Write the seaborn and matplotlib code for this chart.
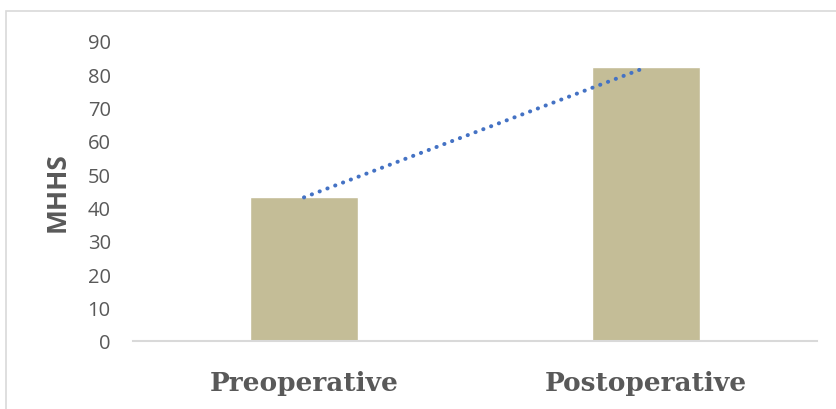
import matplotlib
matplotlib.use("Agg")
import matplotlib.pyplot as plt
from matplotlib.patches import Rectangle
import seaborn as sns
import pandas as pd

# Mean MHHS before and after surgery
categories = ["Preoperative", "Postoperative"]
mhhs_scores = [43, 82]
y_ticks = [0, 10, 20, 30, 40, 50, 60, 70, 80, 90]

BAR_COLOR = "#C4BD97"
TREND_COLOR = "#4472C4"
TEXT_COLOR = "#595959"
FRAME_COLOR = "#D9D9D9"

sns.set_theme(style="white")
plt.rcParams["font.family"] = ["Open Sans", "DejaVu Sans"]

df = pd.DataFrame({"phase": categories, "score": mhhs_scores})

W, H = 836, 410
fig = plt.figure(figsize=(W / 100, H / 100), dpi=100)
ax = fig.add_axes([133 / W, (H - 341.7) / H, (817 - 133) / W, 300 / H])

sns.barplot(data=df, x="phase", y="score", order=categories,
            color=BAR_COLOR, saturation=1, width=0.313, ax=ax)

# Linear trend line through the two means
sns.pointplot(data=df, x="phase", y="score", order=categories,
              color=TREND_COLOR, markers="", errorbar=None, ax=ax)
trend = ax.lines[-1]
trend.set_linewidth(2.9)
trend.set_linestyle((0, (0.05, 2.02)))
trend.set_dash_capstyle("round")
trend.set_zorder(5)

ax.set_ylim(0, 90)
ax.set_xlim(-0.5, 1.5)
ax.set_yticks(y_ticks)
ax.set_yticklabels([str(t) for t in y_ticks], fontsize=14.5, color=TEXT_COLOR)
ax.tick_params(axis="y", length=0, pad=16)
ax.tick_params(axis="x", length=0, pad=21)
for lbl in ax.get_xticklabels():
    lbl.set_family("DejaVu Serif")
    lbl.set_fontweight("bold")
    lbl.set_fontsize(19)
    lbl.set_color(TEXT_COLOR)

ax.set_xlabel("")
ax.set_ylabel("MHHS", fontsize=19, fontweight="bold", color=TEXT_COLOR,
              labelpad=12)

for side in ["top", "right", "left"]:
    ax.spines[side].set_visible(False)
ax.spines["bottom"].set_color(FRAME_COLOR)
ax.spines["bottom"].set_linewidth(1.5)

# Light chart-area border
fig.patches.append(Rectangle((5.5 / W, -0.2), 1.2, (H - 11.7) / H + 0.2,
                             transform=fig.transFigure, fill=False,
                             edgecolor=FRAME_COLOR, linewidth=1.2))

fig.savefig("out.png", dpi=100)
